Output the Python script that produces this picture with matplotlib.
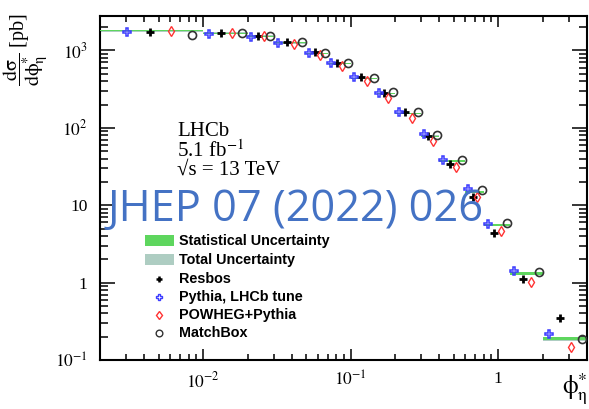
import matplotlib
matplotlib.use("Agg")
import matplotlib.pyplot as plt
from matplotlib.ticker import LogLocator, FuncFormatter, NullFormatter
from matplotlib.patches import Rectangle
from matplotlib.lines import Line2D
import numpy as np

# ---------------- data ----------------
bin_edges = [0.0, 0.01, 0.02, 0.03, 0.05, 0.07, 0.1, 0.15, 0.2, 0.3, 0.4, 0.6, 0.8, 1.2, 2.0, 4.0]
data_xsec = [1786, 1667, 1538, 1250, 915, 680, 435, 279, 154, 77.7, 37.5, 14.9, 5.55, 1.31, 0.189]
stat_rel = [0.015, 0.015, 0.015, 0.015, 0.015, 0.015, 0.015, 0.015, 0.015, 0.02, 0.02, 0.025, 0.03, 0.04, 0.05]
total_rel = [0.025, 0.025, 0.025, 0.025, 0.025, 0.025, 0.025, 0.025, 0.025, 0.03, 0.03, 0.035, 0.04, 0.05, 0.06]
resbos = [1733, 1667, 1538, 1276, 956, 696, 458, 285, 158, 78.2, 34.3, 12.9, 4.38, 1.12, 0.351]
pythia = [1718, 1633, 1493, 1262, 937, 696, 448, 285, 160, 83.7, 38.7, 16.0, 5.72, 1.42, 0.220]
powheg = [1800, 1698, 1538, 1224, 874, 637, 401, 246, 136, 68.6, 31.4, 12.6, 4.59, 1.01, 0.148]
matchbox = [1585, 1698, 1552, 1288, 937, 696, 438, 291, 158, 81.2, 38.7, 15.8, 5.89, 1.37, 0.189]
legend_labels = ["Statistical Uncertainty", "Total Uncertainty", "Resbos",
                 "Pythia, LHCb tune", "POWHEG+Pythia", "MatchBox"]

# ---------------- style ----------------
plt.rcParams["mathtext.fontset"] = "stix"
plt.rcParams["font.family"] = ["Liberation Serif", "DejaVu Serif"]

W, H = 589, 409
fig = plt.figure(figsize=(W / 100, H / 100), dpi=100)
ax = fig.add_axes([100 / W, (H - 360) / H, 487 / W, 344 / H])
ax.set_xscale("log")
ax.set_yscale("log")
x_min, x_max = 0.002, 4.0
ax.set_xlim(x_min, x_max)
ax.set_ylim(0.1, 2790)

green = "#5ed65e"
total_c = "#aecdc2"

edges = np.array(bin_edges, dtype=float)
lo = edges[:-1].copy()
lo[0] = x_min
hi = edges[1:]
d = np.array(data_xsec)

for i in range(len(d)):
    t = total_rel[i]
    s = stat_rel[i]
    ax.fill_between([lo[i], hi[i]], d[i] * (1 - t), d[i] * (1 + t), color=total_c, lw=0, zorder=2)
    ax.fill_between([lo[i], hi[i]], d[i] * (1 - s), d[i] * (1 + s), color=green, lw=0, zorder=3)

# marker placement inside each bin (first bin starts at 0, use a visible start)
lo_pos = lo.copy()
lo_pos[0] = 0.0025

def pos(frac):
    return lo_pos * (hi / lo_pos) ** frac

ax.plot(pos(0.40), resbos, ls="none", marker="+", ms=6, mew=2.0, color="black", zorder=5)
ax.plot(pos(0.14), pythia, ls="none", marker="P", ms=5.2, mfc="none", mec="#3b3bff", mew=1.1, zorder=5)
ax.plot(pos(0.64), powheg, ls="none", marker="d", ms=5.3, mfc="none", mec="#ff3333", mew=1.0, zorder=5)
ax.plot(pos(0.88), matchbox, ls="none", marker="o", ms=5.8, mfc="none", mec="#333333", mew=1.2, zorder=5)

def fmt(v, p):
    e = int(round(np.log10(v)))
    if e == 0:
        return "1"
    if e == 1:
        return "10"
    return r"$10^{%d}$" % e

for axis in (ax.xaxis, ax.yaxis):
    axis.set_major_locator(LogLocator(base=10, numticks=20))
    axis.set_minor_locator(LogLocator(base=10, subs=np.arange(2, 10), numticks=20))
    axis.set_major_formatter(FuncFormatter(fmt))
    axis.set_minor_formatter(NullFormatter())

ax.tick_params(which="both", direction="in", top=True, right=True, width=1.1, labelsize=12.5)
ax.tick_params(axis="y", which="major", length=11, pad=9)
ax.tick_params(axis="y", which="minor", length=6)
ax.tick_params(axis="x", which="major", length=8, pad=8)
ax.tick_params(axis="x", which="minor", length=4.5)
for sp in ax.spines.values():
    sp.set_linewidth(1.5)

# axis titles
fig.text(26 / W, 1 - 13 / H,
         r"$\dfrac{\mathrm{d\sigma}}{\mathrm{d\phi}^{*}_{\mathrm{\eta}}}$ [pb]",
         rotation=90, ha="center", va="top", fontsize=14.5)
fig.text(575 / W, 1 - 389 / H, r"$\mathrm{\phi}^{*}_{\mathrm{\eta}}$", ha="center", va="center",
         fontsize=18)

# LHCb label
fig.text(177 / W, 1 - 131 / H, "LHCb", ha="left", va="center", fontsize=15)
fig.text(177 / W, 1 - 151 / H, r"5.1 fb$^{-1}$", ha="left", va="center", fontsize=15)
fig.text(177 / W, 1 - 170 / H, "\u221As = 13 TeV", ha="left", va="center", fontsize=15)

# legend (manual, ROOT-like)
rows = [241, 260, 279, 297, 315, 333]
fig.add_artist(Rectangle((145 / W, 1 - 246 / H), 29 / W, 11 / H, transform=fig.transFigure,
                         facecolor=green, edgecolor="none"))
fig.add_artist(Rectangle((145 / W, 1 - 265 / H), 29 / W, 11 / H, transform=fig.transFigure,
                         facecolor=total_c, edgecolor="none"))
mk = [dict(marker="+", ms=5, mew=1.8, color="black"),
      dict(marker="P", ms=4.8, mfc="none", mec="#3b3bff", mew=1.0),
      dict(marker="d", ms=4.5, mfc="none", mec="#ff3333", mew=1.0),
      dict(marker="o", ms=4.8, mfc="none", mec="#333333", mew=1.0)]
for r, m in zip(rows[2:], mk):
    fig.add_artist(Line2D([159 / W], [1 - r / H], transform=fig.transFigure, ls="none", **m))
for r, lab in zip(rows, legend_labels):
    fig.text(179 / W, 1 - r / H, lab, ha="left", va="center", fontsize=10.4,
             family="Liberation Sans", weight="bold")

# watermark
fig.text(107 / W, 1 - 210 / H, "JHEP 07 (2022) 026", color="#4472c4", ha="left", va="center",
         fontsize=31.2, family="Open Sans", zorder=10)

fig.savefig("out.png", dpi=100)
